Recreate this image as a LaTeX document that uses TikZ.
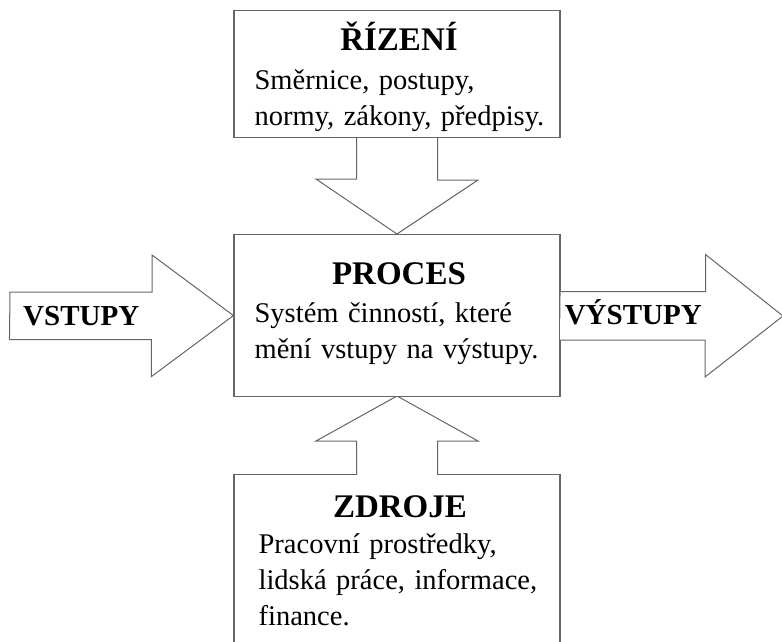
\documentclass[tikz,border=0pt]{standalone}
\usepackage{fontspec}
\setmainfont{Liberation Serif}
\usetikzlibrary{positioning, calc}

\begin{document}
\begin{tikzpicture}[x=1pt, y=-1pt,
    box/.style={draw=black!60, line width=1.1pt, fill=white, minimum width=326pt, inner sep=0pt},
    blockarrow/.style={draw=black!60, line width=1pt, fill=white, line join=miter},
    title/.style={inner sep=0pt, anchor=base, font=\fontsize{33}{36}\selectfont\bfseries},
    body/.style={inner sep=0pt, anchor=base west, text width=300pt, align=left, font=\fontsize{28.5}{36}\selectfont},
    arrowlabel/.style={inner sep=0pt, anchor=base west, font=\fontsize{29}{32}\selectfont\bfseries}]
    \useasboundingbox (0,0) rectangle (782,641);

    % boxes (zdroje first, its arrow opens into it)
    \node [box, minimum height=190pt, anchor=north] (zdroje) at (397,474) {};
    \path (397,10) coordinate (rizeni-top) (397,234) coordinate (proces-top);
    \coordinate (inlet) at (10,316);
    \coordinate (outlet) at (783,316);

    % block arrows
    \draw [blockarrow] ($(rizeni-top)+(-40.5,127)$) -- ++(0,42) -- ++(-40.5,0) -- (proces-top)
        -- ++(81,-54) -- ++(-40.5,0) -- ++(0,-42);
    \draw [blockarrow] ($(zdroje.north)+(-40.5,1.2)$) -- ++(0,-34.2) -- ++(-40.5,0) -- ($(proces-top)+(0,162)$)
        -- ++(81,45) -- ++(-40.5,0) -- ++(0,34.2);

    \node [box, minimum height=127pt, anchor=north] (rizeni) at (rizeni-top) {};
    \node [box, minimum height=162pt, anchor=north] (proces) at (proces-top) {};

    \draw [blockarrow] ($(inlet)+(0,-24)$) -- ++(142,0) -- ++(0,-37) -- (proces.west)
        -- ++(-82,61) -- ++(0,-37) -- ++(-142,0) -- cycle;
    \draw [blockarrow] ($(proces.east)+(0,-24)$) -- ++(145,0) -- ++(0,-37) -- (outlet)
        -- ++(-78,61) -- ++(0,-37) -- ++(-145,0);

    % texts
    \node [title] (rizeni-title) at ($(rizeni.north)+(2,40)$) {ŘÍZENÍ};
    \node [body] (rizeni-text) at ($(rizeni.north west)+(21,79)$) {Směrnice, postupy,\\normy, zákony, předpisy.};
    \node [title] (proces-title) at ($(proces.north)+(2,50)$) {PROCES};
    \node [body] (proces-text) at ($(proces.north west)+(21,88)$) {Systém činností, které\\mění vstupy na výstupy.};
    \node [title] (zdroje-title) at ($(zdroje.north)+(3,43)$) {ZDROJE};
    \node [body] (zdroje-text) at ($(zdroje.north west)+(25,79)$) {Pracovní prostředky,\\lidská práce, informace,\\finance.};
    \node [arrowlabel] (vstupy) at ($(inlet)+(13,9)$) {VSTUPY};
    \node [arrowlabel] (vystupy) at ($(proces.east)+(4,9)$) {VÝSTUPY};
\end{tikzpicture}
\end{document}
